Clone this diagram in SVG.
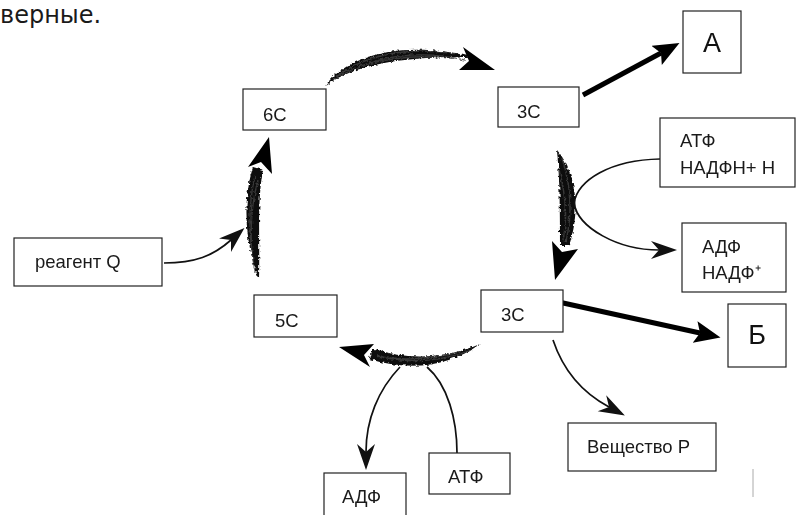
<svg xmlns="http://www.w3.org/2000/svg" width="796" height="515" viewBox="0 0 796 515">
<style>
.box{fill:#fff;stroke:#222;stroke-width:1.2}
.t{font-family:"Liberation Sans",Arial,sans-serif;font-size:18.5px;fill:#1a1a1a}
.big{font-family:"Liberation Sans",Arial,sans-serif;font-size:27px;fill:#111;text-anchor:middle}
.thin{fill:none;stroke:#111;stroke-width:1.7}
.thick{fill:none;stroke:#000;stroke-width:5}
.brush{fill:#111}
.scr{fill:none;stroke:#444;stroke-width:1.3;opacity:0.8}
</style>
<defs>
<marker id="mThick" markerUnits="userSpaceOnUse" markerWidth="28" markerHeight="24" refX="5" refY="11" orient="auto">
<path d="M0,0 L26,11 L0,22 L5,11 Z" fill="#000"/>
</marker>
<marker id="mThin" markerUnits="userSpaceOnUse" markerWidth="28" markerHeight="20" refX="8" refY="9" orient="auto">
<path d="M0,0 L26,9 L0,18 L8,9 Z" fill="#111"/>
</marker>
<filter id="rough" x="-20%" y="-20%" width="140%" height="140%">
<feTurbulence type="fractalNoise" baseFrequency="0.3" numOctaves="2" seed="3" result="n"/>
<feDisplacementMap in="SourceGraphic" in2="n" scale="4" xChannelSelector="R" yChannelSelector="G"/>
</filter>
</defs>
<rect width="796" height="515" fill="#fff"/>
<text x="0" y="23" style="font-family:'DejaVu Sans',Verdana,sans-serif;font-size:24px;fill:#1a1a1a">верные.</text>

<g id="connectors">
<g filter="url(#rough)">
<path class="brush" d="M325,86 C350,52 410,41 472,57 C410,56 355,63 325,86 Z"/>
<path class="scr" d="M333,80 C362,54 410,46 458,54 M342,75 C378,55 420,50 465,60 M360,66 C390,58 420,55 440,58"/>
<path class="brush" d="M557,150 C578,175 580,215 569,246 L560,246 C560,215 560,180 557,150 Z"/>
<path class="scr" d="M562,158 C571,185 572,215 566,242 M559,170 C566,195 567,220 563,240"/>
<path class="brush" d="M259,280 C244,240 243,200 253,167 L263,170 C257,200 260,240 259,280 Z"/>
<path class="scr" d="M255,272 C249,240 248,205 255,176 M252,255 C250,230 251,205 258,180"/>
<path class="brush" d="M480,344 C450,366 410,372 369,359 L372,348 C410,362 450,357 480,344 Z"/>
<path class="scr" d="M472,350 C440,362 410,364 378,356 M460,352 C435,358 410,360 390,358"/>
</g>
<polygon points="495,70 463,47 469,61 459,70" fill="#000"/>
<polygon points="555,280 552,241 562,252 578,249" fill="#000"/>
<polygon points="269,137 248,167 261,162 272,174" fill="#000"/>
<polygon points="339,347 374,344 364,355 370,367" fill="#000"/>

<line class="thick" x1="583" y1="95" x2="661" y2="53" marker-end="url(#mThick)"/>
<line class="thick" x1="554" y1="301" x2="700" y2="333" marker-end="url(#mThick)"/>

<path class="thin" d="M660,159 C610,160 578,180 574,203 C578,228 618,250 659,250" marker-end="url(#mThin)"/>
<path class="thin" d="M164,263 C195,263 213,256 231,240" marker-end="url(#mThin)"/>
<path class="thin" d="M553,340 Q568,385 609,407" marker-end="url(#mThin)"/>
<path class="thin" d="M400,367 C378,390 366,420 366,452" marker-end="url(#mThin)"/>
<path class="thin" d="M427,367 C448,385 457,420 457,453"/>
</g>

<g id="n6C"><rect class="box" x="243" y="89" width="83" height="41"/><text class="t" x="263" y="121">6С</text></g>
<g id="n3Ctop"><rect class="box" x="498" y="87" width="81" height="40"/><text class="t" x="517" y="118">3С</text></g>
<g id="nA"><rect class="box" x="683" y="11" width="58" height="62"/><text class="big" x="712" y="52">А</text></g>
<g id="nATFNADPH"><rect class="box" x="660" y="118" width="135" height="69"/><text class="t" x="680" y="147">АТФ</text><text class="t" x="680" y="174">НАДФН+ Н</text></g>
<g id="nADPNADP"><rect class="box" x="682" y="223" width="104" height="69"/><text class="t" x="702" y="253">АДФ</text><text class="t" x="702" y="279">НАДФ⁺</text></g>
<g id="n3Cbot"><rect class="box" x="481" y="290" width="82" height="42"/><text class="t" x="501" y="321">3С</text></g>
<g id="nB"><rect class="box" x="728" y="304" width="58" height="63"/><text class="big" x="757" y="344">Б</text></g>
<g id="nP"><rect class="box" x="568" y="423" width="148" height="48"/><text class="t" x="587" y="453">Вещество Р</text></g>
<g id="n5C"><rect class="box" x="254" y="295" width="83" height="42"/><text class="t" x="275" y="327">5С</text></g>
<g id="nQ"><rect class="box" x="14" y="238" width="148" height="48"/><text class="t" x="35" y="268">реагент Q</text></g>
<g id="nATF"><rect class="box" x="429" y="453" width="81" height="41"/><text class="t" x="448" y="483">АТФ</text></g>
<g id="nADP"><rect class="box" x="324" y="473" width="82" height="50"/><text class="t" x="342" y="503">АДФ</text></g>
<line x1="753" y1="469" x2="753" y2="497" stroke="#aaa" stroke-width="1"/>
</svg>
